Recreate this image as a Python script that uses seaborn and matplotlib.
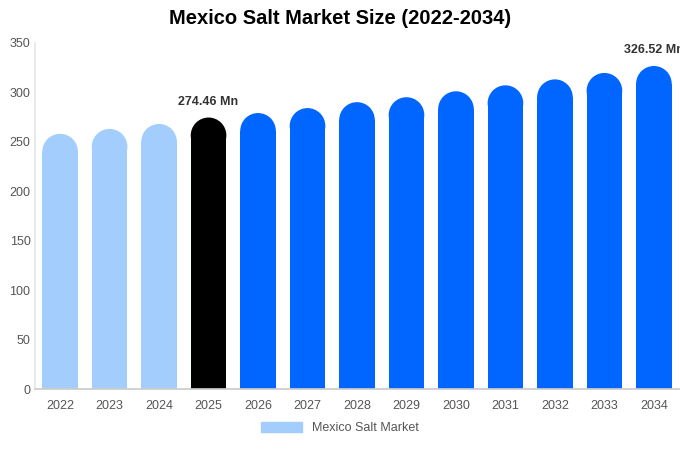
import matplotlib
matplotlib.use("Agg")
import matplotlib.pyplot as plt
import matplotlib.patches as mpatches
import seaborn as sns
import pandas as pd

# values
years = ["2022", "2023", "2024", "2025", "2026", "2027", "2028",
         "2029", "2030", "2031", "2032", "2033", "2034"]
sizes = [258, 263, 268, 274.46, 279, 284, 290, 295, 301, 307, 313, 319.5, 326.52]
colors = ["#a3cdfc"] * 3 + ["#000000"] + ["#0066ff"] * 9

sns.set_theme(style="white")
plt.rcParams['font.family'] = ['Liberation Sans', 'DejaVu Sans']

df = pd.DataFrame({"year": years, "size": sizes})
fig = plt.figure(figsize=(6.8, 4.5), dpi=100)
ax = fig.add_axes([0.052, 0.135, 0.946, 0.77])

sns.barplot(data=df, x="year", y="size", hue="year", palette=colors, saturation=1,
            legend=False, width=0.72, ax=ax)
ax.set_ylim(0, 350)

# rounded tops: shorten each bar and put a half-ellipse cap on it
r = 18.0
for p in list(ax.patches):
    x, w, h = p.get_x(), p.get_width(), p.get_height()
    c = p.get_facecolor()
    p.set_height(h - r)
    p.set_edgecolor("none")
    ax.add_patch(mpatches.Ellipse((x + w / 2, h - r), w, 2 * r, facecolor=c, edgecolor="none"))

ax.text(3, sizes[3] + 10, "274.46 Mn", ha="center", va="bottom", fontsize=9, fontweight="bold", color="#333333")
ax.text(12, sizes[12] + 10, "326.52 Mn", ha="center", va="bottom", fontsize=9, fontweight="bold", color="#333333")

ax.set_xlabel("")
ax.set_ylabel("")
ax.set_yticks(range(0, 351, 50))
ax.tick_params(axis="both", labelsize=9, colors="#555555", length=0)
ax.tick_params(axis="x", pad=8)
for s in ["top", "right"]:
    ax.spines[s].set_visible(False)
ax.spines["left"].set_color("#e6e6e6")
ax.spines["bottom"].set_color("#cccccc")

fig.suptitle("Mexico Salt Market Size (2022-2034)", fontsize=14.5, fontweight="bold", y=0.98, color="black")
handle = mpatches.Patch(color="#a3cdfc", label="Mexico Salt Market")
fig.legend(handles=[handle], loc="lower center", bbox_to_anchor=(0.5, 0.01), frameon=False,
           fontsize=9, handlelength=3.3, handleheight=0.9, labelcolor="#555555")

fig.savefig("out.png", dpi=100)
